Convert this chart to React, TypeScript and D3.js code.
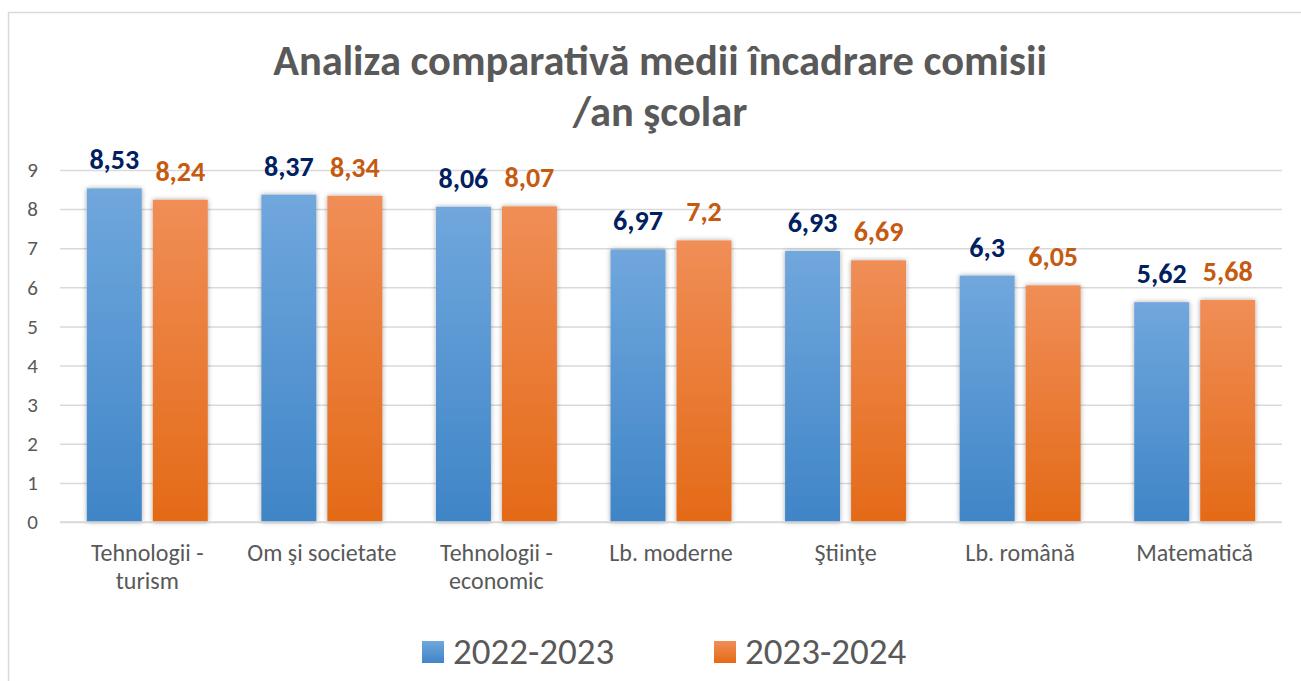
import React, { useEffect, useRef } from "react";
import * as d3 from "d3";

// date
const categories = [
  ["Tehnologii -", "turism"],
  ["Om şi societate"],
  ["Tehnologii -", "economic"],
  ["Lb. moderne"],
  ["Ştiinţe"],
  ["Lb. română"],
  ["Matematică"],
];
const seriesNames = ["2022-2023", "2023-2024"];
const values2022 = [8.53, 8.37, 8.06, 6.97, 6.93, 6.3, 5.62];
const values2023 = [8.24, 8.34, 8.07, 7.2, 6.69, 6.05, 5.68];
const yTicks = [0, 1, 2, 3, 4, 5, 6, 7, 8, 9];

const FONT = "Carlito, Lato, 'Open Sans', sans-serif";
const GREY = "#595959";

export default function App() {
  const svgRef = useRef<SVGSVGElement>(null);

  useEffect(() => {
    const w = 1301;
    const h = 681;
    const svg = d3.select(svgRef.current).attr("width", w).attr("height", h);
    svg.selectAll("*").remove();

    const left = 60, right = 1282, top = 170, bottom = 522;

    const defs = svg.append("defs");
    const grads = [
      { id: "gBlue", c0: "#70A7DD", c1: "#3F85C7" },
      { id: "gOrange", c0: "#F08E57", c1: "#E46A17" },
    ];
    grads.forEach((g) => {
      const lg = defs.append("linearGradient").attr("id", g.id)
        .attr("x1", 0).attr("y1", 0).attr("x2", 0).attr("y2", 1);
      lg.append("stop").attr("offset", "0%").attr("stop-color", g.c0);
      lg.append("stop").attr("offset", "100%").attr("stop-color", g.c1);
    });
    const flt = defs.append("filter").attr("id", "shadow")
      .attr("x", "-20%").attr("y", "-5%").attr("width", "140%").attr("height", "110%");
    flt.append("feDropShadow").attr("dx", 0).attr("dy", 0).attr("stdDeviation", 2.5)
      .attr("flood-color", "#000").attr("flood-opacity", 0.35);

    // chenar
    svg.append("rect")
      .attr("x", 8.5).attr("y", 12.5).attr("width", 1320).attr("height", 700)
      .attr("fill", "white").attr("stroke", "#D9D9D9").attr("stroke-width", 1.5);

    // titlu
    const title = svg.append("text").attr("text-anchor", "middle")
      .style("font-family", FONT).style("font-weight", "bold")
      .style("font-size", "42.5px").attr("fill", GREY);
    title.append("tspan").attr("x", 660).attr("y", 75).text("Analiza comparativă medii încadrare comisii");
    title.append("tspan").attr("x", 660).attr("y", 126).text("/an şcolar");

    const x0 = d3.scaleBand<number>()
      .domain(d3.range(categories.length))
      .range([left, right])
      .paddingInner(0.307)
      .paddingOuter(0.1535);
    const x1 = d3.scaleBand<number>()
      .domain([0, 1])
      .range([0, x0.bandwidth()])
      .paddingInner(0.167);
    const y = d3.scaleLinear().domain([0, 9]).range([bottom, top]);

    // grila
    const yAxis = d3.axisLeft(y).tickValues(yTicks).tickSize(-(right - left)).tickFormat(d3.format("d"));
    const gy = svg.append("g").attr("transform", `translate(${left},0)`).call(yAxis);
    gy.select(".domain").remove();
    gy.selectAll(".tick line").attr("stroke", "#D9D9D9").attr("stroke-width", 1.5);
    gy.selectAll(".tick text").attr("x", -22).attr("fill", GREY)
      .style("font-family", FONT).style("font-size", "21px");

    const data = [values2022, values2023];
    const fills = ["url(#gBlue)", "url(#gOrange)"];
    const labelColors = ["#002060", "#C55A11"];

    data.forEach((vals, s) => {
      svg.append("g").selectAll("rect")
        .data(vals)
        .join("rect")
        .attr("x", (_, i) => x0(i)! + x1(s)!)
        .attr("y", (d) => y(d))
        .attr("width", x1.bandwidth())
        .attr("height", (d) => y(0) - y(d))
        .attr("fill", fills[s])
        .attr("filter", "url(#shadow)");

      svg.append("g").selectAll("text")
        .data(vals)
        .join("text")
        .attr("x", (_, i) => x0(i)! + x1(s)! + x1.bandwidth() / 2)
        .attr("y", (d) => y(d) - 19)
        .attr("text-anchor", "middle")
        .attr("fill", labelColors[s])
        .style("font-family", FONT).style("font-weight", "bold").style("font-size", "28px")
        .text((d) => String(d).replace(".", ","));
    });

    // axa x
    svg.append("line").attr("x1", left).attr("x2", right).attr("y1", bottom).attr("y2", bottom)
      .attr("stroke", "#D9D9D9").attr("stroke-width", 1.5);
    const cat = svg.append("g").selectAll("text").data(categories).join("text")
      .attr("text-anchor", "middle").attr("fill", GREY)
      .style("font-family", FONT).style("font-size", "24px");
    cat.each(function (lines, i) {
      const t = d3.select(this);
      lines.forEach((ln, k) => {
        t.append("tspan").attr("x", x0(i)! + x0.bandwidth() / 2).attr("y", 561 + k * 28).text(ln);
      });
    });

    // legenda
    const legX = [422, 714];
    seriesNames.forEach((name, s) => {
      svg.append("rect").attr("x", legX[s]).attr("y", 641).attr("width", 22).attr("height", 22)
        .attr("fill", fills[s]);
      svg.append("text").attr("x", legX[s] + 31).attr("y", 664)
        .attr("fill", GREY).style("font-family", FONT).style("font-size", "37px")
        .text(name);
    });
  }, []);

  return (
    <div style={{ position: "absolute", left: 0, top: 0, overflow: "hidden", width: 1301, height: 681 }}>
      <svg ref={svgRef}></svg>
    </div>
  );
}
